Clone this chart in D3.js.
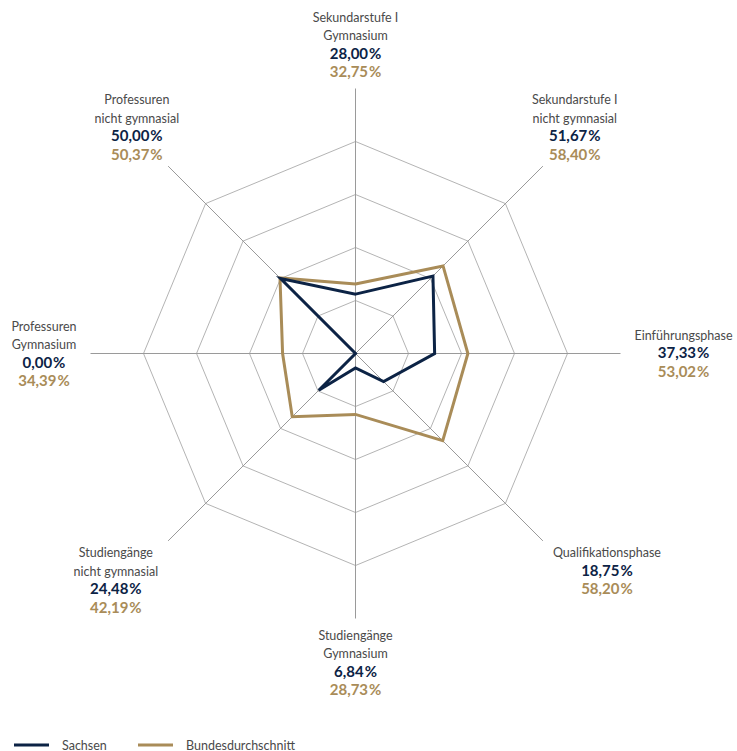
<!DOCTYPE html>
<html>
<head>
<meta charset="utf-8">
<script src="https://cdn.jsdelivr.net/npm/d3@7"></script>
<style>
  body { margin: 0; background: #fff; }
  svg { display: block; font-family: Lato, "Open Sans", sans-serif; }
</style>
</head>
<body>
<div id="container"></div>
<script>
const width = 737,
    height = 751,
    cx = 355.5,
    cy = 353.5,
    outerR = 212,
    lineGap = 18.4;

// DATA
const categories = [
    ["Sekundarstufe I", "Gymnasium"],
    ["Sekundarstufe I", "nicht gymnasial"],
    ["Einführungsphase"],
    ["Qualifikationsphase"],
    ["Studiengänge", "Gymnasium"],
    ["Studiengänge", "nicht gymnasial"],
    ["Professuren", "Gymnasium"],
    ["Professuren", "nicht gymnasial"]
]
const sachsen = [28.00, 51.67, 37.33, 18.75, 6.84, 24.48, 0.00, 50.00]
const bund = [32.75, 58.40, 53.02, 58.20, 28.73, 42.19, 34.39, 50.37]
const gridLevels = [25, 50, 75, 100]
const axisMax = 125
const seriesNames = ["Sachsen", "Bundesdurchschnitt"]
const seriesColors = ["#0c2345", "#a98c58"]

const n = categories.length
const angle = i => i * 2 * Math.PI / n

/**SCALES*/
const rScale = d3.scaleLinear()
    .domain([0, 100])
    .range([0, outerR])

const fmt = v => d3.format(".2f")(v).replace(".", ",") + "\u200A%"

/*HTML Elements */
const svg = d3.select("#container")
    .append("svg")
    .attr("width", width)
    .attr("height", height)

const chart = svg.append("g")
    .attr("transform", `translate(${cx},${cy})`)

// grid octagons
const radial = d3.lineRadial()
    .angle((d, i) => angle(i))
    .radius(d => rScale(d))
    .curve(d3.curveLinearClosed)

chart.selectAll(".grid")
    .data(gridLevels)
    .join("path")
    .attr("class", "grid")
    .attr("d", lv => radial(d3.range(n).map(() => lv)))
    .attr("fill", "none")
    .attr("stroke", "#b4b4b4")
    .attr("stroke-width", 1)

// spokes
chart.selectAll(".spoke")
    .data(d3.range(n))
    .join("line")
    .attr("class", "spoke")
    .attr("x1", 0)
    .attr("y1", 0)
    .attr("x2", i => rScale(axisMax) * Math.sin(angle(i)))
    .attr("y2", i => -rScale(axisMax) * Math.cos(angle(i)))
    .attr("stroke", "#9a9a9a")
    .attr("stroke-width", 1)

// series polygons (gold first, navy on top)
const series = [sachsen, bund]
chart.selectAll(".series")
    .data([1, 0])
    .join("path")
    .attr("class", "series")
    .attr("d", s => radial(series[s]))
    .attr("fill", "none")
    .attr("stroke", s => seriesColors[s])
    .attr("stroke-width", 3)
    .attr("stroke-linejoin", "miter")

// axis labels
const labels = chart.selectAll(".label")
    .data(d3.range(n))
    .join("g")
    .attr("class", "label")

labels.each(function (i) {
    const g = d3.select(this)
    const lines = categories[i].map(t => ({ text: t, kind: "name" }))
        .concat([{ text: fmt(sachsen[i]), kind: 0 }, { text: fmt(bund[i]), kind: 1 }])
    const t = g.append("text").attr("text-anchor", "middle")
    lines.forEach((l, k) => {
        t.append("tspan")
            .attr("x", 0)
            .attr("y", k * lineGap)
            .attr("font-size", l.kind === "name" ? 12.5 : 15)
            .attr("font-weight", l.kind === "name" ? 400 : 700)
            .attr("fill", l.kind === "name" ? "#4a4a4a" : seriesColors[l.kind])
            .text(l.text)
    })
    let w = 0
    t.selectAll("tspan").each(function () { w = Math.max(w, this.getComputedTextLength()) })
    const hw = w / 2
    const h = 9 + (lines.length - 1) * lineGap
    const hh = h / 2
    const a = angle(i)
    const ex = rScale(axisMax) * Math.sin(a), ey = -rScale(axisMax) * Math.cos(a)
    const sx = Math.abs(Math.sin(a)) < 1e-6 ? 0 : Math.sign(Math.sin(a))
    const sy = Math.abs(Math.cos(a)) < 1e-6 ? 0 : Math.sign(-Math.cos(a))
    let dx, dy
    if (sy === 0) { dx = sx * (hw + 14); dy = 0 }
    else if (sx === 0) { dx = 0; dy = sy * (hh + 12) }
    else {
        const lower = sy > 0
        dx = sx * (hw + (lower ? 10 : -11))
        dy = sy * (hh + 7)
    }
    // block mid -> first baseline
    const midX = ex + dx, midY = ey + dy
    g.attr("transform", `translate(${midX},${midY - hh + 9.5})`)
})

// legend
const legend = svg.append("g")
    .attr("transform", `translate(14,745)`)
const legendX = d3.scaleOrdinal().domain(seriesNames).range([0, 124])
const item = legend.selectAll(".leg")
    .data(seriesNames)
    .join("g")
    .attr("class", "leg")
    .attr("transform", d => `translate(${legendX(d)},0)`)
item.append("line")
    .attr("x1", 0).attr("x2", 35)
    .attr("y1", 0).attr("y2", 0)
    .attr("stroke", (d, i) => seriesColors[i])
    .attr("stroke-width", 3)
item.append("text")
    .attr("x", 48)
    .attr("y", 4.5)
    .attr("font-size", 12.5)
    .attr("fill", "#4a4a4a")
    .text(d => d)
</script>
</body>
</html>
